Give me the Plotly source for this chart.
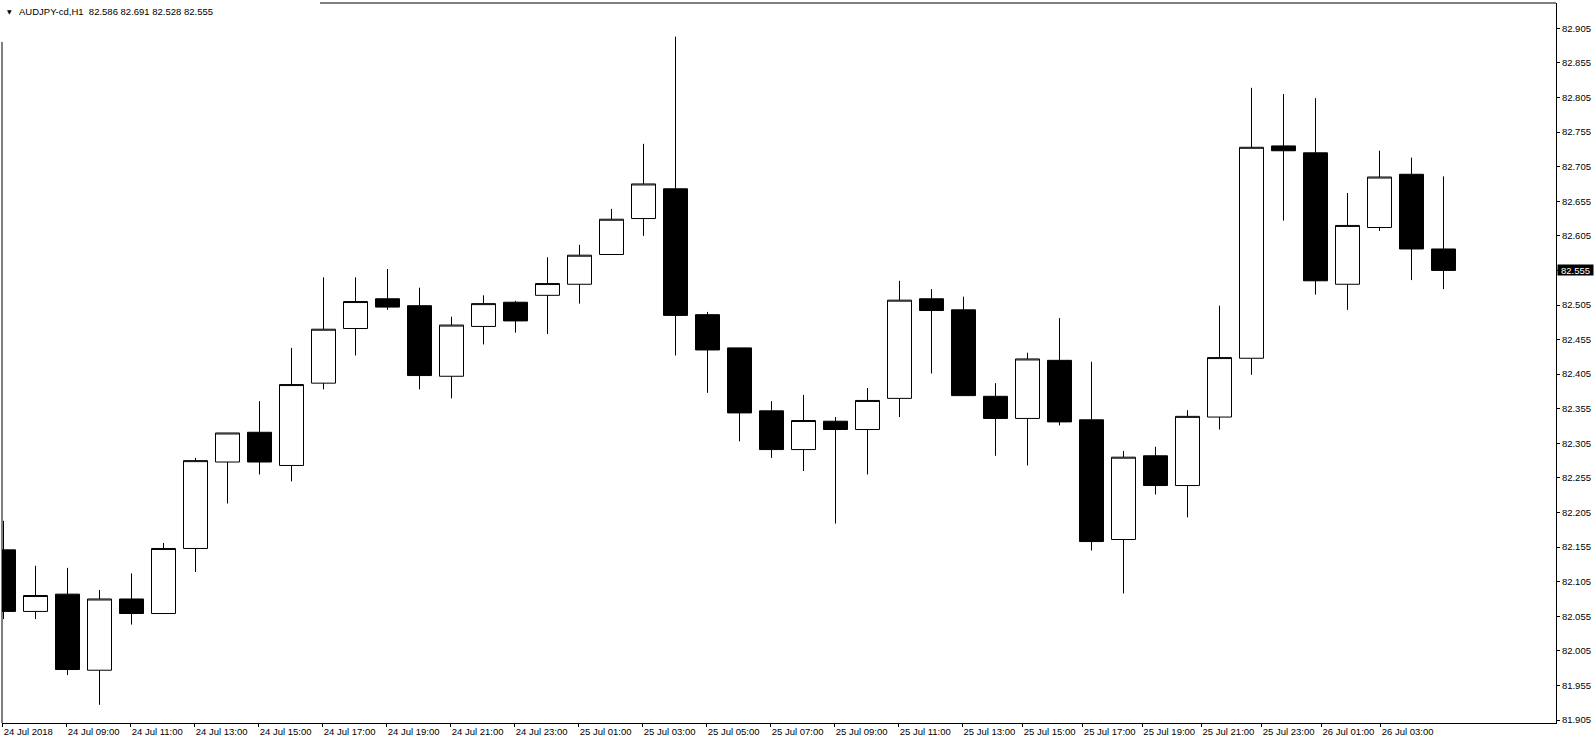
import plotly.graph_objects as go

# ---- data (AUDJPY-cd, H1) ----
bar_index = list(range(46))
opens = [82.151, 82.062, 82.087, 81.977, 82.080, 82.059, 82.153, 82.278, 82.321, 82.273,
         82.392, 82.471, 82.514, 82.504, 82.402, 82.474, 82.509, 82.519, 82.535, 82.578,
         82.630, 82.673, 82.491, 82.443, 82.352, 82.296, 82.337, 82.325, 82.370, 82.514,
         82.498, 82.373, 82.341, 82.425, 82.339, 82.166, 82.287, 82.244, 82.343, 82.428,
         82.735, 82.725, 82.535, 82.617, 82.694, 82.586]
highs = [82.193, 82.128, 82.125, 82.093, 82.117, 82.161, 82.284, 82.320, 82.366, 82.443,
         82.545, 82.545, 82.557, 82.530, 82.488, 82.519, 82.511, 82.574, 82.592, 82.644,
         82.738, 82.893, 82.495, 82.443, 82.366, 82.375, 82.343, 82.385, 82.540, 82.528,
         82.517, 82.392, 82.436, 82.486, 82.423, 82.294, 82.300, 82.353, 82.504, 82.819,
         82.810, 82.804, 82.667, 82.728, 82.718, 82.691]
lows = [82.051, 82.051, 81.970, 81.927, 82.043, 82.059, 82.119, 82.218, 82.260, 82.250,
        82.383, 82.432, 82.498, 82.383, 82.370, 82.448, 82.465, 82.463, 82.507, 82.578,
        82.605, 82.432, 82.378, 82.308, 82.284, 82.265, 82.189, 82.260, 82.343, 82.406,
        82.374, 82.287, 82.273, 82.331, 82.150, 82.088, 82.231, 82.198, 82.325, 82.404,
        82.627, 82.520, 82.498, 82.612, 82.541, 82.528]
closes = [82.062, 82.085, 81.978, 82.080, 82.059, 82.153, 82.280, 82.320, 82.278, 82.390,
          82.470, 82.510, 82.502, 82.403, 82.476, 82.507, 82.482, 82.536, 82.577, 82.629,
          82.680, 82.490, 82.440, 82.349, 82.296, 82.338, 82.325, 82.367, 82.512, 82.497,
          82.374, 82.341, 82.427, 82.336, 82.163, 82.285, 82.244, 82.344, 82.429, 82.733,
          82.728, 82.540, 82.620, 82.690, 82.586, 82.555]

# time-scale labels and where they sit (in bar units)
tick_text = ["24 Jul 2018", "24 Jul 09:00", "24 Jul 11:00", "24 Jul 13:00", "24 Jul 15:00",
             "24 Jul 17:00", "24 Jul 19:00", "24 Jul 21:00", "24 Jul 23:00", "25 Jul 01:00",
             "25 Jul 03:00", "25 Jul 05:00", "25 Jul 07:00", "25 Jul 09:00", "25 Jul 11:00",
             "25 Jul 13:00", "25 Jul 15:00", "25 Jul 17:00", "25 Jul 19:00", "25 Jul 21:00",
             "25 Jul 23:00", "26 Jul 01:00", "26 Jul 03:00"]
tick_pos = [-0.025, 1.975, 3.975, 5.975, 7.975, 9.975, 11.975, 13.975, 15.975, 17.975,
            19.975, 21.975, 23.975, 25.975, 27.975, 29.97, 31.85, 33.73, 35.59, 37.44,
            39.32, 41.19, 43.04]

symbol = "AUDJPY-cd,H1"
last_ohlc = [82.586, 82.691, 82.528, 82.555]

FONT = "Liberation Sans, Arial, sans-serif"

fig = go.Figure()
fig.add_trace(go.Candlestick(
    x=bar_index, open=opens, high=highs, low=lows, close=closes,
    increasing=dict(fillcolor="#ffffff", line=dict(color="#000000", width=1)),
    decreasing=dict(fillcolor="#000000", line=dict(color="#000000", width=1)),
    whiskerwidth=0, showlegend=False, hoverinfo="skip",
))

W, H = 1596, 744
ml, mr, mt, mb = 2, 40, 3, 21
pw = W - ml - mr
ph = H - mt - mb

fig.update_layout(
    width=W, height=H,
    margin=dict(l=ml, r=mr, t=mt, b=mb, pad=0, autoexpand=False),
    paper_bgcolor="#ffffff", plot_bgcolor="#ffffff",
    boxgap=0.25, boxgroupgap=0,
    font=dict(family=FONT, size=9.5, color="#000000"),
    xaxis=dict(
        range=[-0.047, 48.516], showgrid=False, zeroline=False,
        rangeslider=dict(visible=False),
        tickmode="array", tickvals=tick_pos, ticktext=tick_text, tickangle=0,
        ticks="outside", ticklen=3, tickcolor="#000000", tickwidth=1,
        ticklabelposition="outside right",
        showline=True, linecolor="#000000", linewidth=1,
        tickfont=dict(family=FONT, size=9.5, color="#000000"),
    ),
    yaxis=dict(
        range=[81.9007, 82.9416], side="right", showgrid=False, zeroline=False,
        tick0=81.905, dtick=0.05, tickformat=".3f",
        ticks="outside", ticklen=3, tickcolor="#000000", tickwidth=1,
        showline=True, linecolor="#000000", linewidth=1,
        tickfont=dict(family=FONT, size=9.5, color="#000000"),
    ),
)

# left and top borders (interrupted behind the title block)
title_h = 42
title_w = 320
fig.add_shape(type="line", xref="paper", yref="paper", x0=0, x1=0,
              y0=0, y1=1 - (title_h - mt) / ph, line=dict(color="#000000", width=1))
fig.add_shape(type="line", xref="paper", yref="paper", x0=(title_w - ml) / pw, x1=1,
              y0=1, y1=1, line=dict(color="#000000", width=1))

# title
fig.add_annotation(xref="paper", yref="paper", x=0, y=1, xanchor="left", yanchor="top",
                   xshift=15, yshift=-1, showarrow=False,
                   text=symbol + "\u00a0 " + " ".join(f"{v:.3f}" for v in last_ohlc),
                   font=dict(family=FONT, size=9.5, color="#000000"))
fig.add_annotation(xref="paper", yref="paper", x=0, y=1, xanchor="center", yanchor="top",
                   xshift=7.5, yshift=-3, showarrow=False, text="\u25bc",
                   font=dict(family="DejaVu Sans", size=6, color="#000000"))

# current price marker
fig.add_annotation(xref="paper", yref="y", x=1, y=closes[-1], xanchor="left", yanchor="middle",
                   xshift=1, showarrow=False, text=f"{closes[-1]:.3f}",
                   bgcolor="#000000", borderpad=0, width=35, height=10,
                   font=dict(family=FONT, size=9.5, color="#ffffff"))

fig.write_html("out.html", config={"displayModeBar": False},
               post_script="document.body.style.margin='0px';document.body.style.overflow='hidden';")
